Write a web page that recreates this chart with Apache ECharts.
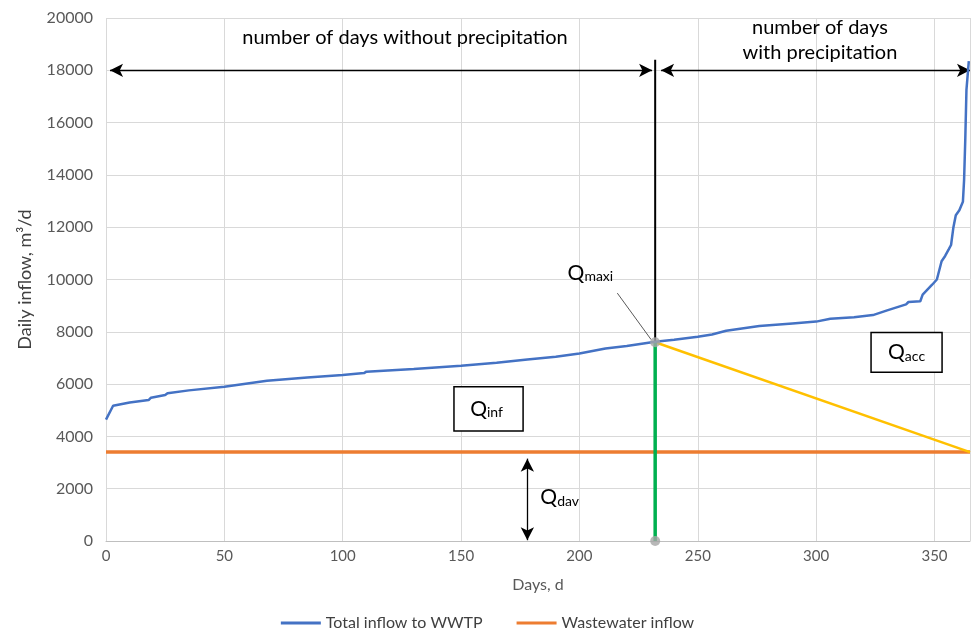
<!DOCTYPE html>
<html><head><meta charset="utf-8">
<script src="https://cdn.jsdelivr.net/npm/echarts@6/dist/echarts.min.js"></script>
<style>html,body{margin:0;padding:0;background:#fff}#c{width:975px;height:638px}</style>
</head><body><div id="c"></div>
<script>
// ---- data ----
const days = [0, 3, 10, 18, 19, 25, 26, 35, 50, 68, 85, 100, 109, 110, 130, 150, 165, 178, 190, 200, 211, 220, 232, 240, 250, 256, 262, 276, 290, 300, 306, 316, 324, 330, 338, 339, 344, 345, 349, 351, 353, 354.5, 356, 357, 358, 359, 360.5, 362, 362.5, 363, 363.5, 364.5];
const totalInflow = [4640, 5170, 5300, 5390, 5480, 5580, 5650, 5760, 5900, 6130, 6250, 6350, 6420, 6475, 6580, 6700, 6820, 6945, 7050, 7170, 7360, 7460, 7620, 7700, 7810, 7900, 8040, 8220, 8320, 8390, 8500, 8560, 8640, 8820, 9050, 9140, 9170, 9420, 9800, 10000, 10700, 10900, 11150, 11320, 12000, 12460, 12650, 12970, 13800, 15340, 17250, 18350];
const wastewaterDays = [0, 365];
const wastewaterInflow = [3400, 3400];
const qmaxiDay = 232;
const qmaxiValue = 7600;
const arrowLevel = 18000;
const blackLineTop = 18400;
const accEndDay = 365;
const davDay = 178;
const xTickStep = 50;
const yTickStep = 2000;

const FONT = 'Lato';
const chart = echarts.init(document.getElementById('c'), null, {renderer: 'canvas'});

const totalData = days.map((d, i) => [d, totalInflow[i]]);
const wasteData = wastewaterDays.map((d, i) => [d, wastewaterInflow[i]]);

const option = {
  animation: false,
  textStyle: {fontFamily: FONT},
  grid: {left: 106, right: 5, top: 18, bottom: 97, containLabel: false},
  xAxis: {
    type: 'value', min: 0, max: 365, interval: xTickStep,
    name: 'Days, d', nameLocation: 'middle', nameGap: 36,
    nameTextStyle: {fontFamily: FONT, fontSize: 16, color: '#595959'},
    axisLine: {show: true, lineStyle: {color: '#bfbfbf', width: 1}},
    axisTick: {show: false},
    axisLabel: {fontFamily: FONT, fontSize: 15, color: '#595959', margin: 8,
      formatter: v => (v % xTickStep === 0 ? String(v) : '')},
    splitLine: {show: true, lineStyle: {color: '#d9d9d9', width: 1}}
  },
  yAxis: {
    type: 'value', min: 0, max: 20000, interval: yTickStep,
    name: 'Daily inflow, m³/d', nameLocation: 'middle', nameGap: 72, nameRotate: 90,
    nameTextStyle: {fontFamily: FONT, fontSize: 18, color: '#404040'},
    axisLine: {show: false}, axisTick: {show: false},
    axisLabel: {fontFamily: FONT, fontSize: 16, color: '#595959', margin: 13, formatter: v => String(v)},
    splitLine: {show: true, lineStyle: {color: '#d9d9d9', width: 1}}
  },
  legend: {
    bottom: 2, left: 'center', itemGap: 34, itemWidth: 40, itemHeight: 3,
    data: [{name: 'Total inflow to WWTP', icon: 'rect'}, {name: 'Wastewater inflow', icon: 'rect'}],
    textStyle: {fontFamily: FONT, fontSize: 16, color: '#404040'}
  },
  series: [
    {
      name: 'Wastewater inflow', type: 'line', data: wasteData, showSymbol: false,
      lineStyle: {color: '#ED7D31', width: 3.5}, itemStyle: {color: '#ED7D31'}, z: 3, silent: true
    },
    {
      name: 'Yellow', type: 'line', data: [[qmaxiDay, qmaxiValue], [accEndDay, wastewaterInflow[0]]], showSymbol: false,
      lineStyle: {color: '#FFC000', width: 2.5}, z: 3, silent: true
    },
    {
      name: 'Green', type: 'line', data: [[qmaxiDay, 0], [qmaxiDay, qmaxiValue]], showSymbol: false,
      lineStyle: {color: '#00B050', width: 3.5}, z: 4, silent: true
    },
    {
      name: 'Black', type: 'line', data: [[qmaxiDay, qmaxiValue], [qmaxiDay, blackLineTop]], showSymbol: false,
      lineStyle: {color: '#000000', width: 2}, z: 4, silent: true,
      markLine: {
        silent: true, animation: false, symbol: ['arrow', 'arrow'], symbolSize: [10, 13],
        label: {show: false}, emphasis: {disabled: true},
        lineStyle: {color: '#000000', width: 1.3, type: 'solid'},
        data: [
          [{coord: [1.7, arrowLevel]}, {coord: [230.7, arrowLevel]}],
          [{coord: [234.5, arrowLevel]}, {coord: [accEndDay, arrowLevel]}],
          [{coord: [davDay, 3150]}, {coord: [davDay, 30]}]
        ]
      }
    },
    {
      name: 'Total inflow to WWTP', type: 'line', data: totalData, showSymbol: false,
      lineStyle: {color: '#4472C4', width: 2.5}, itemStyle: {color: '#4472C4'}, z: 5, silent: true,
      markLine: {
        silent: true, animation: false, symbol: ['none', 'none'],
        label: {show: false}, emphasis: {disabled: true},
        lineStyle: {color: '#595959', width: 1, type: 'solid'},
        data: [[{coord: [216, 9480]}, {coord: [230.3, 7700]}]]
      }
    },
    {
      name: 'Points', type: 'scatter', data: [[qmaxiDay, 0], [qmaxiDay, qmaxiValue]],
      symbolSize: 10, itemStyle: {color: '#a6a6a6'}, z: 6, silent: true, clip: false
    }
  ]
};
chart.setOption(option);

function px(d, v) { return chart.convertToPixel({gridIndex: 0}, [d, v]); }

const qRich = {
  q: {fontFamily: FONT, fontSize: 21, lineHeight: 22, color: '#000'},
  s: {fontFamily: FONT, fontSize: 14, lineHeight: 6, color: '#000', verticalAlign: 'bottom'}
};

const p1 = px(126.3, 19235);
const p2 = px(301.6, 19200);
const pMax = px(195, 10250);
const infA = px(147.0, 5900), infB = px(176.2, 4210);
const accA = px(323.2, 7970), accB = px(353.2, 6450);
const pDav = px(183.5, 1680);

chart.setOption({
  graphic: [
    {type: 'text', x: p1[0], y: p1[1], style: {text: 'number of days without precipitation', font: '20px ' + FONT, fill: '#000', align: 'center', verticalAlign: 'middle'}},
    {type: 'text', x: p2[0], y: p2[1] + 1, style: {text: 'number of days\nwith precipitation', font: '20px ' + FONT, lineHeight: 25, fill: '#000', align: 'center', verticalAlign: 'middle'}},
    {type: 'text', x: pMax[0], y: pMax[1], style: {text: '{q|Q}{s|maxi}', rich: qRich, verticalAlign: 'middle', align: 'left'}},
    {type: 'rect', shape: {x: infA[0], y: infA[1], width: infB[0] - infA[0], height: infB[1] - infA[1]}, style: {fill: '#fff', stroke: '#000', lineWidth: 1.5}, z: 10},
    {type: 'text', x: (infA[0] + infB[0]) / 2 - 2, y: (infA[1] + infB[1]) / 2, z: 11, style: {text: '{q|Q}{s|inf}', rich: qRich, align: 'center', verticalAlign: 'middle'}},
    {type: 'rect', shape: {x: accA[0], y: accA[1], width: accB[0] - accA[0], height: accB[1] - accA[1]}, style: {fill: '#fff', stroke: '#000', lineWidth: 1.5}, z: 10},
    {type: 'text', x: (accA[0] + accB[0]) / 2, y: (accA[1] + accB[1]) / 2, z: 11, style: {text: '{q|Q}{s|acc}', rich: qRich, align: 'center', verticalAlign: 'middle'}},
    {type: 'text', x: pDav[0], y: pDav[1], style: {text: '{q|Q}{s|dav}', rich: qRich, align: 'left', verticalAlign: 'middle'}}
  ]
});
</script>
</body></html>
